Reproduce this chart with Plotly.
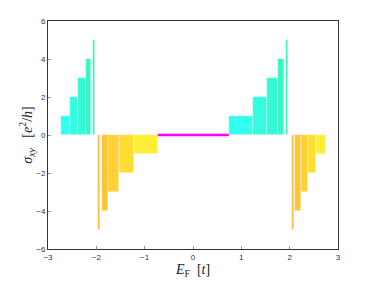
import plotly.graph_objects as go

# Hall conductivity plateaus: (left edge, right edge) of E_F range and sigma_xy value
cyan_left_lo = [-2.74, -2.54, -2.37, -2.22, -2.07]
cyan_left_hi = [-2.54, -2.37, -2.22, -2.12, -2.03]
cyan_right_lo = [0.74, 1.24, 1.54, 1.75, 1.92]
cyan_right_hi = [1.24, 1.54, 1.75, 1.88, 1.97]
cyan_vals = [1, 2, 3, 4, 5]

orange_left_lo = [-1.23, -1.53, -1.75, -1.88, -1.97]
orange_left_hi = [-0.73, -1.23, -1.53, -1.75, -1.92]
orange_right_lo = [2.55, 2.38, 2.23, 2.12, 2.04]
orange_right_hi = [2.75, 2.55, 2.38, 2.23, 2.08]
orange_vals = [-1, -2, -3, -4, -5]

zero_range = [-0.73, 0.74]
zero_vals = [0, 0]

cyan_colors = ["#33fff0", "#33fce0", "#33fad0", "#33f8c0", "#33f5b4"]
orange_colors = ["#ffee33", "#ffdd33", "#ffd033", "#ffc433", "#ffb833"]

fig = go.Figure()

def add_bars(lo, hi, vals, colors):
    fig.add_trace(go.Bar(
        x=[(a + b) / 2 for a, b in zip(lo, hi)],
        y=vals,
        width=[b - a for a, b in zip(lo, hi)],
        marker=dict(color=colors, line=dict(color="rgba(255,255,255,0.6)", width=0.6)),
        showlegend=False,
        hoverinfo="skip",
    ))

add_bars(cyan_left_lo, cyan_left_hi, cyan_vals, cyan_colors)
add_bars(cyan_right_lo, cyan_right_hi, cyan_vals, cyan_colors)
add_bars(orange_left_lo, orange_left_hi, orange_vals, orange_colors)
add_bars(orange_right_lo, orange_right_hi, orange_vals, orange_colors)

fig.add_trace(go.Scatter(
    x=zero_range, y=zero_vals, mode="lines",
    line=dict(color="#ff00ff", width=2.5), showlegend=False, hoverinfo="skip",
))

axis_common = dict(
    showgrid=False, zeroline=False, showline=True, linecolor="#333333", linewidth=1,
    mirror=True, ticks="inside", ticklen=3, tickcolor="#999999", automargin=False,
    tickfont=dict(family="Liberation Sans, Arial", size=8, color="#333333"),
)

fig.update_layout(
    width=366, height=273,
    margin=dict(l=40, r=36, t=13, b=32),
    paper_bgcolor="white", plot_bgcolor="white",
    barmode="overlay", bargap=0,
    xaxis=dict(range=[-3, 3], tickvals=[-3, -2, -1, 0, 1, 2, 3],
               title=dict(text="<i>E</i><sub>F</sub>  [<i>t</i>]",
                          font=dict(family="Liberation Serif, Times New Roman", size=14, color="#222222"),
                          standoff=1),
               **axis_common),
    yaxis=dict(range=[-6, 6], tickvals=[-6, -4, -2, 0, 2, 4, 6],
               title=dict(text="<i>σ</i><sub><i>xy</i></sub>   [<i>e</i><sup>2</sup>/<i>h</i>]",
                          font=dict(family="Liberation Serif, Times New Roman", size=14, color="#222222"),
                          standoff=0),
               **axis_common),
)

fig.write_html("out.html")
